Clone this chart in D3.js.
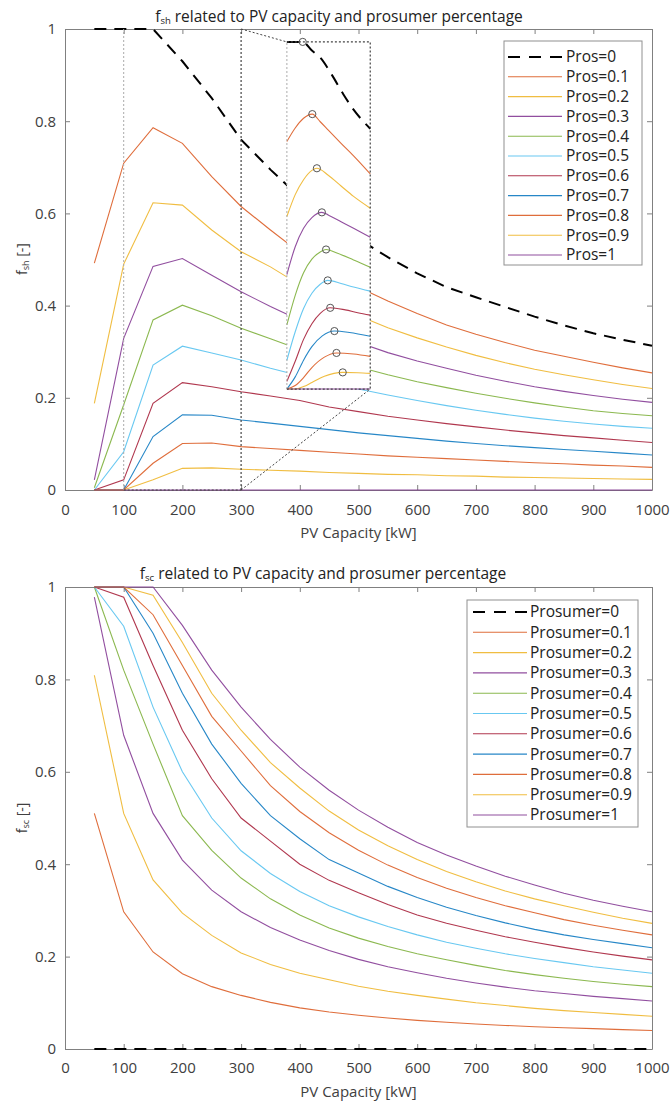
<!DOCTYPE html>
<html>
<head>
<meta charset="utf-8">
<script src="https://cdn.jsdelivr.net/npm/d3@7"></script>
<style>
body { margin: 0; background: #fff; }
text { font-family: "Open Sans", sans-serif; }
</style>
</head>
<body>
<svg id="chart" width="671" height="1104"></svg>
<script>
// PV capacity grid (kW)
const pvCapacity = [50, 100, 150, 200, 250, 300, 350, 400, 450, 500, 550, 600, 650, 700, 750, 800, 850, 900, 950, 1000];
const xTickValues = [0, 100, 200, 300, 400, 500, 600, 700, 800, 900, 1000];
const yTickValues = [0, 0.2, 0.4, 0.6, 0.8, 1];
const prosShares = ['0', '0.1', '0.2', '0.3', '0.4', '0.5', '0.6', '0.7', '0.8', '0.9', '1'];
const lineColors = ['#000000', '#D95319', '#EDB120', '#7E2F8E', '#77AC30', '#4DBEEE', '#A2142F', '#0072BD', '#D95319', '#EDB120', '#7E2F8E'];

// f_sh per prosumer share
const fsh0  = [1, 1, 1, 0.93, 0.85, 0.76, 0.695, 0.635, 0.585, 0.545, 0.505, 0.47, 0.44, 0.418, 0.397, 0.376, 0.357, 0.34, 0.326, 0.313];
const fsh01 = [0.492, 0.709, 0.786, 0.752, 0.68, 0.615, 0.564, 0.515, 0.475, 0.44, 0.41, 0.383, 0.358, 0.338, 0.32, 0.303, 0.29, 0.277, 0.265, 0.254];
const fsh02 = [0.188, 0.49, 0.623, 0.618, 0.564, 0.517, 0.484, 0.445, 0.41, 0.378, 0.352, 0.33, 0.31, 0.292, 0.276, 0.262, 0.25, 0.239, 0.229, 0.22];
const fsh03 = [0.022, 0.329, 0.485, 0.502, 0.466, 0.43, 0.398, 0.368, 0.343, 0.32, 0.298, 0.28, 0.264, 0.249, 0.236, 0.224, 0.214, 0.205, 0.197, 0.19];
const fsh04 = [0.005, 0.185, 0.369, 0.401, 0.378, 0.351, 0.328, 0.305, 0.285, 0.267, 0.25, 0.235, 0.222, 0.21, 0.199, 0.189, 0.18, 0.172, 0.166, 0.161];
const fsh05 = [0, 0.083, 0.271, 0.312, 0.297, 0.282, 0.264, 0.248, 0.233, 0.219, 0.206, 0.194, 0.183, 0.173, 0.164, 0.156, 0.149, 0.143, 0.138, 0.134];
const fsh06 = [0, 0.022, 0.188, 0.233, 0.224, 0.213, 0.204, 0.194, 0.18, 0.17, 0.16, 0.152, 0.144, 0.137, 0.13, 0.124, 0.118, 0.113, 0.108, 0.103];
const fsh07 = [0, 0, 0.116, 0.163, 0.162, 0.152, 0.145, 0.138, 0.131, 0.124, 0.118, 0.112, 0.106, 0.101, 0.096, 0.092, 0.088, 0.084, 0.08, 0.076];
const fsh08 = [0, 0, 0.058, 0.101, 0.102, 0.094, 0.09, 0.086, 0.082, 0.078, 0.074, 0.071, 0.068, 0.065, 0.062, 0.059, 0.057, 0.054, 0.052, 0.049];
const fsh09 = [0, 0, 0.022, 0.047, 0.048, 0.045, 0.043, 0.041, 0.038, 0.036, 0.034, 0.033, 0.031, 0.03, 0.028, 0.027, 0.026, 0.025, 0.024, 0.023];
const fsh1  = [0, 0, 0, 0, 0, 0, 0, 0, 0, 0, 0, 0, 0, 0, 0, 0, 0, 0, 0, 0];

// zoomed detail 100-300 kW, [kW, f_sh]
const zoom0  = [[100, 1], [138, 1], [160, 0.975], [180, 0.955], [208, 0.905], [235, 0.85], [260, 0.805], [300, 0.75]];
const zoom01 = [[100, 0.713], [120, 0.752], [140, 0.78], [161, 0.792], [180, 0.77], [200, 0.745], [230, 0.708], [260, 0.672], [300, 0.62]];
const zoom02 = [[100, 0.497], [120, 0.56], [140, 0.603], [160, 0.63], [172, 0.636], [200, 0.615], [230, 0.585], [260, 0.555], [300, 0.521]];
const zoom03 = [[100, 0.33], [120, 0.41], [140, 0.463], [160, 0.494], [184, 0.509], [200, 0.501], [230, 0.482], [260, 0.463], [300, 0.437]];
const zoom04 = [[100, 0.185], [120, 0.27], [140, 0.335], [160, 0.374], [180, 0.395], [194, 0.402], [220, 0.392], [260, 0.372], [300, 0.351]];
const zoom05 = [[100, 0.083], [120, 0.165], [140, 0.232], [160, 0.276], [180, 0.302], [198, 0.313], [230, 0.304], [260, 0.294], [300, 0.282]];
const zoom06 = [[100, 0.022], [120, 0.08], [140, 0.143], [160, 0.188], [180, 0.218], [204, 0.234], [240, 0.228], [270, 0.22], [300, 0.213]];
const zoom07 = [[100, 0], [120, 0.035], [140, 0.083], [160, 0.122], [185, 0.153], [214, 0.167], [250, 0.163], [300, 0.152]];
const zoom08 = [[100, 0], [120, 0.01], [140, 0.033], [160, 0.062], [190, 0.092], [219, 0.104], [260, 0.101], [300, 0.094]];
const zoom09 = [[100, 0], [120, 0], [140, 0.007], [160, 0.019], [190, 0.037], [234, 0.048], [270, 0.047], [300, 0.045]];
const zoom1  = [[100, 0], [300, 0]];
const zoomPeaks = [[138, 1], [161, 0.792], [172, 0.636], [184, 0.509], [194, 0.402], [198, 0.313], [204, 0.234], [214, 0.167], [219, 0.104], [234, 0.048]];

// f_sc per prosumer share
const fsc0  = [0, 0, 0, 0, 0, 0, 0, 0, 0, 0, 0, 0, 0, 0, 0, 0, 0, 0, 0, 0];
const fsc01 = [0.51, 0.297, 0.21, 0.163, 0.135, 0.116, 0.101, 0.089, 0.08, 0.073, 0.067, 0.062, 0.058, 0.054, 0.051, 0.048, 0.046, 0.044, 0.042, 0.04];
const fsc02 = [0.809, 0.51, 0.366, 0.294, 0.246, 0.208, 0.183, 0.164, 0.15, 0.136, 0.125, 0.116, 0.108, 0.1, 0.094, 0.088, 0.083, 0.079, 0.075, 0.071];
const fsc03 = [0.978, 0.679, 0.51, 0.409, 0.344, 0.297, 0.263, 0.236, 0.213, 0.194, 0.178, 0.165, 0.153, 0.143, 0.134, 0.126, 0.12, 0.114, 0.109, 0.104];
const fsc04 = [1, 0.82, 0.66, 0.505, 0.43, 0.37, 0.325, 0.29, 0.262, 0.24, 0.222, 0.206, 0.193, 0.181, 0.17, 0.161, 0.153, 0.146, 0.14, 0.135];
const fsc05 = [1, 0.915, 0.74, 0.6, 0.5, 0.429, 0.38, 0.341, 0.31, 0.286, 0.265, 0.247, 0.231, 0.218, 0.206, 0.196, 0.187, 0.178, 0.171, 0.164];
const fsc06 = [1, 0.978, 0.83, 0.69, 0.585, 0.5, 0.45, 0.4, 0.365, 0.338, 0.313, 0.29, 0.272, 0.257, 0.243, 0.231, 0.22, 0.21, 0.201, 0.193];
const fsc07 = [1, 1, 0.9, 0.77, 0.66, 0.575, 0.505, 0.455, 0.41, 0.381, 0.352, 0.328, 0.307, 0.289, 0.273, 0.259, 0.247, 0.237, 0.228, 0.219];
const fsc08 = [1, 1, 0.94, 0.83, 0.72, 0.645, 0.57, 0.514, 0.468, 0.43, 0.398, 0.371, 0.348, 0.328, 0.31, 0.295, 0.28, 0.268, 0.257, 0.247];
const fsc09 = [1, 1, 0.982, 0.88, 0.77, 0.69, 0.62, 0.565, 0.515, 0.474, 0.44, 0.41, 0.384, 0.362, 0.342, 0.325, 0.31, 0.296, 0.283, 0.272];
const fsc1  = [1, 1, 1, 0.917, 0.82, 0.74, 0.67, 0.61, 0.56, 0.517, 0.48, 0.447, 0.42, 0.396, 0.374, 0.355, 0.337, 0.322, 0.309, 0.297];

const fshSeries = [fsh0, fsh01, fsh02, fsh03, fsh04, fsh05, fsh06, fsh07, fsh08, fsh09, fsh1];
const fscSeries = [fsc0, fsc01, fsc02, fsc03, fsc04, fsc05, fsc06, fsc07, fsc08, fsc09, fsc1];
const zoomSeries = [zoom0, zoom01, zoom02, zoom03, zoom04, zoom05, zoom06, zoom07, zoom08, zoom09, zoom1];

const svg = d3.select('#chart');
const plotLeft = 65, plotRight = 652;
const frameColor = '#808080';
const lineWidth = 1.1, lineOpacity = 0.85;

const x = d3.scaleLinear().domain([0, 1000]).range([plotLeft, plotRight]);
const yTop = d3.scaleLinear().domain([0, 1]).range([490, 29]);
const yBot = d3.scaleLinear().domain([0, 1]).range([1049, 587]);

function styleAxis(g) {
    g.attr('font-family', '"Open Sans", sans-serif').attr('font-size', 15);
    g.select('.domain').attr('stroke', frameColor);
    g.selectAll('.tick line').attr('stroke', frameColor);
    g.selectAll('.tick text').attr('fill', '#404040');
}

function drawFrame(y, padBottom) {
    const [y0, y1] = y.range();
    svg.append('g').attr('transform', `translate(0,${y0})`)
        .call(d3.axisBottom(x).tickValues(xTickValues).tickSize(-5).tickSizeOuter(0).tickPadding(padBottom).tickFormat(d3.format('d')))
        .call(styleAxis);
    svg.append('g').attr('transform', `translate(0,${y1})`)
        .call(d3.axisTop(x).tickValues(xTickValues).tickSize(-5).tickSizeOuter(0).tickFormat(() => ''))
        .call(styleAxis);
    svg.append('g').attr('transform', `translate(${plotLeft},0)`)
        .call(d3.axisLeft(y).tickValues(yTickValues).tickSize(-5).tickSizeOuter(0).tickPadding(9).tickFormat(d3.format('~g')))
        .call(styleAxis);
    svg.append('g').attr('transform', `translate(${plotRight},0)`)
        .call(d3.axisRight(y).tickValues(yTickValues).tickSize(-5).tickSizeOuter(0).tickFormat(() => ''))
        .call(styleAxis);
}

function drawLines(y, series) {
    const line = d3.line().x((d, i) => x(pvCapacity[i])).y(d => y(d));
    const g = svg.append('g');
    // dashed base case drawn last so it stays on top
    series.forEach((vals, k) => {
        if (k === 0) return;
        g.append('path').datum(vals).attr('d', line)
            .attr('fill', 'none').attr('stroke', lineColors[k])
            .attr('stroke-width', lineWidth).attr('stroke-opacity', lineOpacity);
    });
    g.append('path').datum(series[0]).attr('d', line)
        .attr('fill', 'none').attr('stroke', '#000').attr('stroke-width', 2).attr('stroke-dasharray', '12,8');
}

function drawTitle(cx, cy, sub) {
    const t = svg.append('text').attr('x', cx).attr('y', cy).attr('text-anchor', 'middle')
        .attr('font-size', 15.5).attr('fill', '#222');
    t.append('tspan').text('f');
    t.append('tspan').attr('font-size', 9.5).attr('dy', 1.5).text(sub);
    t.append('tspan').attr('dy', -1.5).text(' related to PV capacity and prosumer percentage');
}

function drawYLabel(cx, cy, sub) {
    const t = svg.append('text').attr('transform', `translate(${cx},${cy}) rotate(-90)`)
        .attr('text-anchor', 'middle').attr('font-size', 14).attr('fill', '#404040');
    t.append('tspan').text('f');
    t.append('tspan').attr('font-size', 9).attr('dy', 1.5).text(sub);
    t.append('tspan').attr('dy', -1.5).text(' [-]');
}

function drawXLabel(cy) {
    svg.append('text').attr('x', (plotLeft + plotRight) / 2).attr('y', cy).attr('text-anchor', 'middle')
        .attr('font-size', 15).attr('fill', '#404040').text('PV Capacity [kW]');
}

function drawLegend(box, prefix) {
    const g = svg.append('g');
    g.append('rect').attr('x', box.x).attr('y', box.y).attr('width', box.w).attr('height', box.h)
        .attr('fill', '#fff').attr('stroke', '#909090').attr('stroke-width', 1);
    prosShares.forEach((p, k) => {
        const ry = box.row0 + k * box.step;
        g.append('line').attr('x1', box.lx1).attr('x2', box.lx2).attr('y1', ry).attr('y2', ry)
            .attr('stroke', k === 0 ? '#000' : lineColors[k])
            .attr('stroke-width', k === 0 ? 2 : lineWidth)
            .attr('stroke-opacity', k === 0 ? 1 : lineOpacity)
            .attr('stroke-dasharray', k === 0 ? '12,9' : null);
        g.append('text').attr('x', box.tx).attr('y', ry).attr('dy', '0.35em')
            .attr('font-size', 15.5).attr('fill', '#222').text(prefix + '=' + p);
    });
}

// ---------- top panel: f_sh ----------
drawFrame(yTop, 14);
drawLines(yTop, fshSeries);

// region being magnified
const dotted = '2,2';
svg.append('line').attr('x1', x(100)).attr('x2', x(100)).attr('y1', yTop(0)).attr('y2', yTop(1))
    .attr('stroke', '#aaa').attr('stroke-dasharray', dotted);
svg.append('line').attr('x1', x(300)).attr('x2', x(300)).attr('y1', yTop(0)).attr('y2', yTop(1))
    .attr('stroke', '#444').attr('stroke-dasharray', dotted).attr('stroke-width', 1.2);
svg.append('line').attr('x1', x(100)).attr('x2', x(300)).attr('y1', yTop(0)).attr('y2', yTop(0))
    .attr('stroke', '#444').attr('stroke-dasharray', dotted).attr('stroke-width', 1.2);

// magnified view
const zx = d3.scaleLinear().domain([100, 300]).range([x(378), x(520)]);
const zy = d3.scaleLinear().domain([0, 1]).range([yTop(0.219), yTop(0.972)]);

svg.append('line').attr('x1', x(300)).attr('y1', yTop(1)).attr('x2', zx(100)).attr('y2', zy(1))
    .attr('stroke', '#444').attr('stroke-dasharray', dotted);
svg.append('line').attr('x1', x(300)).attr('y1', yTop(0)).attr('x2', zx(300)).attr('y2', zy(0))
    .attr('stroke', '#444').attr('stroke-dasharray', dotted);

svg.append('rect').attr('x', zx(100)).attr('y', zy(1)).attr('width', zx(300) - zx(100)).attr('height', zy(0) - zy(1))
    .attr('fill', '#fff');

const zoomLine = d3.line().x(d => zx(d[0])).y(d => zy(d[1])).curve(d3.curveMonotoneX);
zoomSeries.forEach((pts, k) => {
    if (k === 0) return;
    svg.append('path').datum(pts).attr('d', zoomLine)
        .attr('fill', 'none').attr('stroke', lineColors[k])
        .attr('stroke-width', lineWidth).attr('stroke-opacity', lineOpacity);
});
svg.append('path').datum(zoom0).attr('d', zoomLine)
    .attr('fill', 'none').attr('stroke', '#000').attr('stroke-width', 2).attr('stroke-dasharray', '12,8');

svg.append('g').selectAll('circle').data(zoomPeaks).enter().append('circle')
    .attr('cx', d => zx(d[0])).attr('cy', d => zy(d[1])).attr('r', 3.6)
    .attr('fill', 'none').attr('stroke', '#555').attr('stroke-width', 1);

// magnified box border
svg.append('line').attr('x1', zx(100)).attr('x2', zx(100)).attr('y1', zy(0)).attr('y2', zy(1))
    .attr('stroke', '#aaa').attr('stroke-dasharray', dotted);
svg.append('polyline')
    .attr('points', [[zx(100), zy(1)], [zx(300), zy(1)], [zx(300), zy(0)], [zx(100), zy(0)]].map(p => p.join(',')).join(' '))
    .attr('fill', 'none').attr('stroke', '#444').attr('stroke-dasharray', dotted).attr('stroke-width', 1.2);

drawTitle(339, 22, 'sh');
drawYLabel(27, 259, 'sh');
drawXLabel(538);
drawLegend({ x: 504, y: 41, w: 138, h: 224, row0: 57, step: 19.8, lx1: 508, lx2: 562, tx: 566 }, 'Pros');

// ---------- bottom panel: f_sc ----------
drawFrame(yBot, 13.5);
drawLines(yBot, fscSeries);
drawTitle(323, 579, 'sc');
drawYLabel(27, 818, 'sc');
drawXLabel(1097);
drawLegend({ x: 467, y: 600, w: 171, h: 227, row0: 612, step: 20.3, lx1: 473, lx2: 527, tx: 530 }, 'Prosumer');
</script>
</body>
</html>
